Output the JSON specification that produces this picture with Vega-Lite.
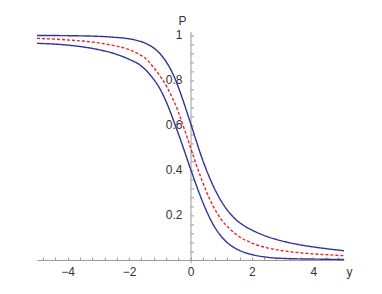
{
  "$schema": "https://vega.github.io/schema/vega-lite/v6.json",
  "width": 307,
  "height": 231.5,
  "autosize": {"type": "none"},
  "padding": {"left": 37, "top": 31.4, "right": 38, "bottom": 31.1},
  "background": "white",
  "config": {"view": {"stroke": null}, "font": "Liberation Sans"},
  "datasets": {
    "curves": [
      {"x": -5, "P": 0.998, "c": "upper"}, {"x": -4, "P": 0.997, "c": "upper"}, {"x": -3, "P": 0.994, "c": "upper"},
      {"x": -2.5, "P": 0.99, "c": "upper"}, {"x": -2, "P": 0.983, "c": "upper"}, {"x": -1.64, "P": 0.972, "c": "upper"},
      {"x": -1.5, "P": 0.965, "c": "upper"}, {"x": -1.25, "P": 0.947, "c": "upper"}, {"x": -1, "P": 0.918, "c": "upper"},
      {"x": -0.75, "P": 0.872, "c": "upper"}, {"x": -0.56, "P": 0.823, "c": "upper"}, {"x": -0.42, "P": 0.777, "c": "upper"},
      {"x": -0.29, "P": 0.728, "c": "upper"}, {"x": -0.18, "P": 0.684, "c": "upper"}, {"x": -0.07, "P": 0.638, "c": "upper"},
      {"x": 0, "P": 0.609, "c": "upper"}, {"x": 0.15, "P": 0.545, "c": "upper"}, {"x": 0.31, "P": 0.478, "c": "upper"},
      {"x": 0.45, "P": 0.424, "c": "upper"}, {"x": 0.64, "P": 0.36, "c": "upper"}, {"x": 0.8, "P": 0.312, "c": "upper"},
      {"x": 1, "P": 0.262, "c": "upper"}, {"x": 1.25, "P": 0.213, "c": "upper"}, {"x": 1.5, "P": 0.177, "c": "upper"},
      {"x": 1.75, "P": 0.152, "c": "upper"}, {"x": 2, "P": 0.133, "c": "upper"}, {"x": 2.5, "P": 0.104, "c": "upper"},
      {"x": 3, "P": 0.084, "c": "upper"}, {"x": 3.5, "P": 0.069, "c": "upper"}, {"x": 4, "P": 0.058, "c": "upper"},
      {"x": 4.5, "P": 0.049, "c": "upper"}, {"x": 5, "P": 0.041, "c": "upper"},

      {"x": -5, "P": 0.963, "c": "lower"}, {"x": -4, "P": 0.955, "c": "lower"}, {"x": -3, "P": 0.935, "c": "lower"},
      {"x": -2.5, "P": 0.918, "c": "lower"}, {"x": -2, "P": 0.892, "c": "lower"}, {"x": -1.64, "P": 0.866, "c": "lower"},
      {"x": -1.5, "P": 0.85, "c": "lower"}, {"x": -1.25, "P": 0.812, "c": "lower"}, {"x": -1, "P": 0.762, "c": "lower"},
      {"x": -0.75, "P": 0.69, "c": "lower"}, {"x": -0.5, "P": 0.6, "c": "lower"}, {"x": -0.34, "P": 0.54, "c": "lower"},
      {"x": -0.15, "P": 0.465, "c": "lower"}, {"x": 0, "P": 0.405, "c": "lower"}, {"x": 0.15, "P": 0.347, "c": "lower"},
      {"x": 0.31, "P": 0.288, "c": "lower"}, {"x": 0.42, "P": 0.25, "c": "lower"}, {"x": 0.56, "P": 0.206, "c": "lower"},
      {"x": 0.75, "P": 0.155, "c": "lower"}, {"x": 1, "P": 0.105, "c": "lower"}, {"x": 1.25, "P": 0.071, "c": "lower"},
      {"x": 1.5, "P": 0.049, "c": "lower"}, {"x": 1.75, "P": 0.034, "c": "lower"}, {"x": 2, "P": 0.024, "c": "lower"},
      {"x": 2.5, "P": 0.012, "c": "lower"}, {"x": 3, "P": 0.007, "c": "lower"}, {"x": 3.5, "P": 0.005, "c": "lower"},
      {"x": 4, "P": 0.004, "c": "lower"}, {"x": 4.5, "P": 0.003, "c": "lower"}, {"x": 5, "P": 0.002, "c": "lower"},

      {"x": -5, "P": 0.985, "c": "mid"}, {"x": -4, "P": 0.978, "c": "mid"}, {"x": -3, "P": 0.965, "c": "mid"},
      {"x": -2.5, "P": 0.953, "c": "mid"}, {"x": -2, "P": 0.935, "c": "mid"}, {"x": -1.64, "P": 0.912, "c": "mid"},
      {"x": -1.5, "P": 0.9, "c": "mid"}, {"x": -1.21, "P": 0.857, "c": "mid"}, {"x": -1, "P": 0.82, "c": "mid"},
      {"x": -0.89, "P": 0.797, "c": "mid"}, {"x": -0.75, "P": 0.764, "c": "mid"}, {"x": -0.56, "P": 0.711, "c": "mid"},
      {"x": -0.4, "P": 0.66, "c": "mid"}, {"x": -0.25, "P": 0.601, "c": "mid"}, {"x": -0.1, "P": 0.541, "c": "mid"},
      {"x": 0, "P": 0.5, "c": "mid"}, {"x": 0.1, "P": 0.459, "c": "mid"}, {"x": 0.25, "P": 0.4, "c": "mid"},
      {"x": 0.5, "P": 0.31, "c": "mid"}, {"x": 0.75, "P": 0.236, "c": "mid"}, {"x": 1, "P": 0.18, "c": "mid"},
      {"x": 1.25, "P": 0.142, "c": "mid"}, {"x": 1.5, "P": 0.112, "c": "mid"}, {"x": 2, "P": 0.075, "c": "mid"},
      {"x": 2.5, "P": 0.054, "c": "mid"}, {"x": 3, "P": 0.041, "c": "mid"}, {"x": 3.5, "P": 0.033, "c": "mid"},
      {"x": 4, "P": 0.027, "c": "mid"}, {"x": 4.5, "P": 0.023, "c": "mid"}, {"x": 5, "P": 0.019, "c": "mid"}
    ]
  },
  "data": {"name": "curves"},
  "mark": {"type": "line", "strokeWidth": 1.4, "interpolate": "monotone"},
  "encoding": {
    "x": {
      "field": "x", "type": "quantitative",
      "scale": {"domain": [-5, 5], "nice": false, "zero": false},
      "axis": {
        "orient": "bottom", "offset": -2.925, "grid": false,
        "values": [-4.8, -4.4, -4, -3.6, -3.2, -2.8, -2.4, -2, -1.6, -1.2, -0.8, -0.4, 0, 0.4, 0.8, 1.2, 1.6, 2, 2.4, 2.8, 3.2, 3.6, 4, 4.4, 4.8],
        "labelExpr": "datum.value == 0 ? '0\u2002\u2002' : (abs(datum.value / 2 - round(datum.value / 2)) < 0.000001 ? replace(format(datum.value, 'd'), '-', '\u2212') : '')",
        "tickSize": -3, "tickColor": "#9a9a9a", "domainColor": "#9a9a9a", "domainWidth": 1,
        "labelColor": "#333333", "labelFontSize": 12, "labelPadding": 10, "labelFlush": false, "labelOverlap": false,
        "title": "y", "titleX": 312, "titleY": 12, "titleAngle": 0, "titleFontWeight": "normal", "titleFontSize": 12,
        "titleColor": "#333333", "titleAlign": "center", "titleBaseline": "middle"
      }
    },
    "y": {
      "field": "P", "type": "quantitative",
      "scale": {"domain": [-0.013, 1.016], "nice": false, "zero": false},
      "axis": {
        "orient": "left", "offset": -153.5, "grid": false,
        "values": [0.04, 0.08, 0.12, 0.16, 0.2, 0.24, 0.28, 0.32, 0.36, 0.4, 0.44, 0.48, 0.52, 0.56, 0.6, 0.64, 0.68, 0.72, 0.76, 0.8, 0.84, 0.88, 0.92, 0.96, 1],
        "labelExpr": "datum.value == 1 ? '1' : (abs(datum.value * 5 - round(datum.value * 5)) < 0.000001 ? format(datum.value, '.1f') : '')",
        "tickSize": -3, "tickColor": "#9a9a9a", "domainColor": "#9a9a9a", "domainWidth": 1,
        "labelColor": "#333333", "labelFontSize": 12, "labelPadding": 11.5, "labelFlush": false, "labelOverlap": false,
        "title": "P", "titleX": -8.5, "titleY": -11.4, "titleAngle": 0, "titleFontWeight": "normal", "titleFontSize": 12,
        "titleColor": "#333333", "titleAlign": "center", "titleBaseline": "middle"
      }
    },
    "color": {
      "field": "c", "type": "nominal",
      "scale": {"domain": ["upper", "lower", "mid"], "range": ["#33339a", "#33339a", "#e8262b"]},
      "legend": null
    },
    "strokeDash": {
      "field": "c", "type": "nominal",
      "scale": {"domain": ["upper", "lower", "mid"], "range": [[1, 0], [1, 0], [3, 2]]},
      "legend": null
    }
  }
}
